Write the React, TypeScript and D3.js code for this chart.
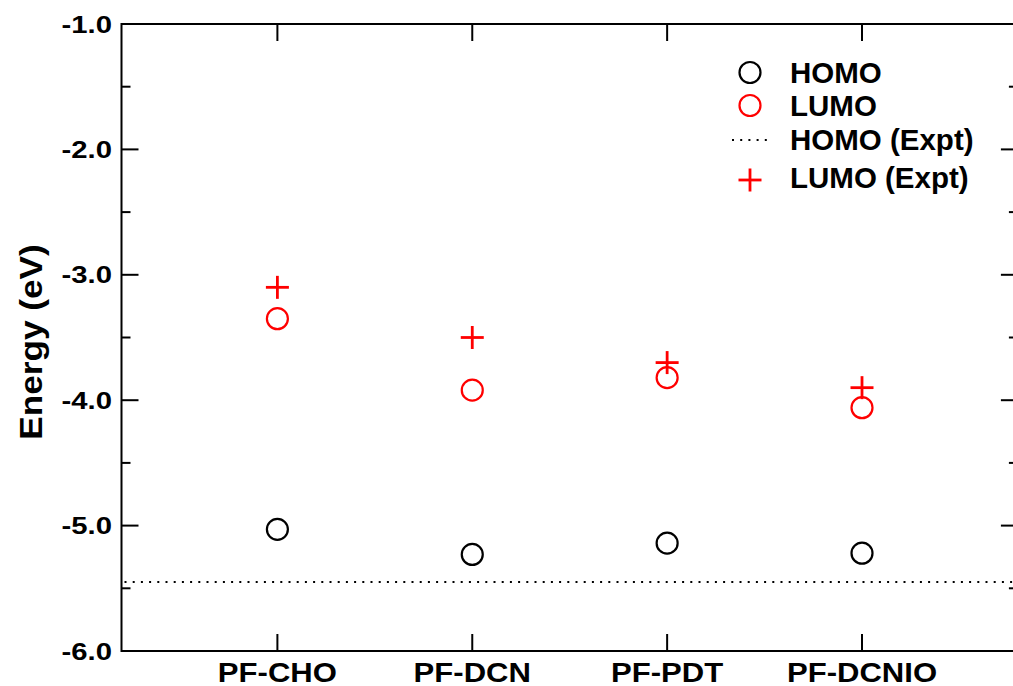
import React from "react";
import * as d3 from "d3";

const categories = ["PF-CHO", "PF-DCN", "PF-PDT", "PF-DCNIO"];
const homo = [-5.03, -5.23, -5.14, -5.22];
const lumo = [-3.35, -3.92, -3.82, -4.06];
const lumoExpt = [-3.1, -3.5, -3.7, -3.9];
const homoExpt = -5.45;
const yTicks = [-1.0, -2.0, -3.0, -4.0, -5.0, -6.0];
const yMinorTicks = [-1.5, -2.5, -3.5, -4.5, -5.5];
const legendItems = ["HOMO", "LUMO", "HOMO (Expt)", "LUMO (Expt)"];

const W = 1013;
const H = 686;
const FONT = "'Liberation Sans', Arial, Helvetica, sans-serif";

export default function App() {
  const x = d3.scaleLinear().domain([0.2, 4.8]).range([121.5, 1017.9]);
  const y = d3.scaleLinear().domain([-1, -6]).range([24, 651]);
  const left = x(0.2);
  const right = x(4.8);
  const top = y(-1);
  const bottom = y(-6);
  const majorLen = 17;
  const minorLen = 9;
  const sw = 2;

  return (
    <svg
      width={W}
      height={H}
      style={{ position: "absolute", left: 0, top: 0, background: "#fff" }}
      fontFamily={FONT}
    >
      <rect x={0} y={0} width={W} height={H} fill="#fff" />
      {/* HOMO expt dotted line */}
      <line
        x1={left + 3}
        x2={right}
        y1={y(homoExpt)}
        y2={y(homoExpt)}
        stroke="#000"
        strokeWidth={2}
        strokeDasharray="2,6.2"
      />
      {/* frame */}
      <rect
        x={left}
        y={top}
        width={right - left}
        height={bottom - top}
        fill="none"
        stroke="#000"
        strokeWidth={sw}
      />
      {/* y ticks */}
      {yTicks.map((t) => (
        <g key={"yt" + t}>
          <line x1={left} x2={left + majorLen} y1={y(t)} y2={y(t)} stroke="#000" strokeWidth={sw} />
          <line x1={right} x2={right - majorLen} y1={y(t)} y2={y(t)} stroke="#000" strokeWidth={sw} />
          <text
            x={0}
            y={0}
            transform={`translate(${left - 9.5},${y(t) + 8.6}) scale(1.22,1)`}
            textAnchor="end"
            fontSize={24}
            fontWeight="bold"
          >
            {t.toFixed(1)}
          </text>
        </g>
      ))}
      {yMinorTicks.map((t) => (
        <g key={"ym" + t}>
          <line x1={left} x2={left + minorLen} y1={y(t)} y2={y(t)} stroke="#000" strokeWidth={sw} />
          <line x1={right} x2={right - minorLen} y1={y(t)} y2={y(t)} stroke="#000" strokeWidth={sw} />
        </g>
      ))}
      {/* x ticks */}
      {categories.map((c, i) => (
        <g key={"xt" + c}>
          <line x1={x(i + 1)} x2={x(i + 1)} y1={bottom} y2={bottom - majorLen} stroke="#000" strokeWidth={sw} />
          <line x1={x(i + 1)} x2={x(i + 1)} y1={top} y2={top + majorLen} stroke="#000" strokeWidth={sw} />
          <text
            x={0}
            y={0}
            transform={`translate(${x(i + 1)},${682}) scale(1.13,1)`}
            textAnchor="middle"
            fontSize={27.5}
            fontWeight="bold"
          >
            {c}
          </text>
        </g>
      ))}
      {/* y axis title */}
      <text
        transform={`translate(41.5,342) rotate(-90) scale(1.1,1)`}
        textAnchor="middle"
        fontSize={32}
        fontWeight="bold"
      >
        Energy (eV)
      </text>
      {/* HOMO circles */}
      {homo.map((v, i) => (
        <circle key={"h" + i} cx={x(i + 1)} cy={y(v)} r={10.5} fill="none" stroke="#000" strokeWidth={2.2} />
      ))}
      {/* LUMO circles */}
      {lumo.map((v, i) => (
        <circle key={"l" + i} cx={x(i + 1)} cy={y(v)} r={10.5} fill="none" stroke="#ff0000" strokeWidth={2.2} />
      ))}
      {/* LUMO expt plus */}
      {lumoExpt.map((v, i) => (
        <g key={"p" + i} stroke="#ff0000" strokeWidth={2.8}>
          <line x1={x(i + 1) - 11.5} x2={x(i + 1) + 11.5} y1={y(v)} y2={y(v)} />
          <line x1={x(i + 1)} x2={x(i + 1)} y1={y(v) - 11.5} y2={y(v) + 11.5} />
        </g>
      ))}
      {/* legend */}
      <g>
        <circle cx={750} cy={72.5} r={10.5} fill="none" stroke="#000" strokeWidth={2.2} />
        <circle cx={750} cy={105.5} r={10.5} fill="none" stroke="#ff0000" strokeWidth={2.2} />
        <line x1={732} x2={768} y1={140} y2={140} stroke="#000" strokeWidth={2} strokeDasharray="2,6.2" />
        <g stroke="#ff0000" strokeWidth={2.8}>
          <line x1={738.5} x2={761.5} y1={180} y2={180} />
          <line x1={750} x2={750} y1={168.5} y2={191.5} />
        </g>
        {legendItems.map((s, i) => (
          <text
            key={s}
            x={790}
            y={[83.3, 116, 150, 188][i]}
            fontSize={29.5}
            fontWeight="bold"
          >
            {s}
          </text>
        ))}
      </g>
    </svg>
  );
}
